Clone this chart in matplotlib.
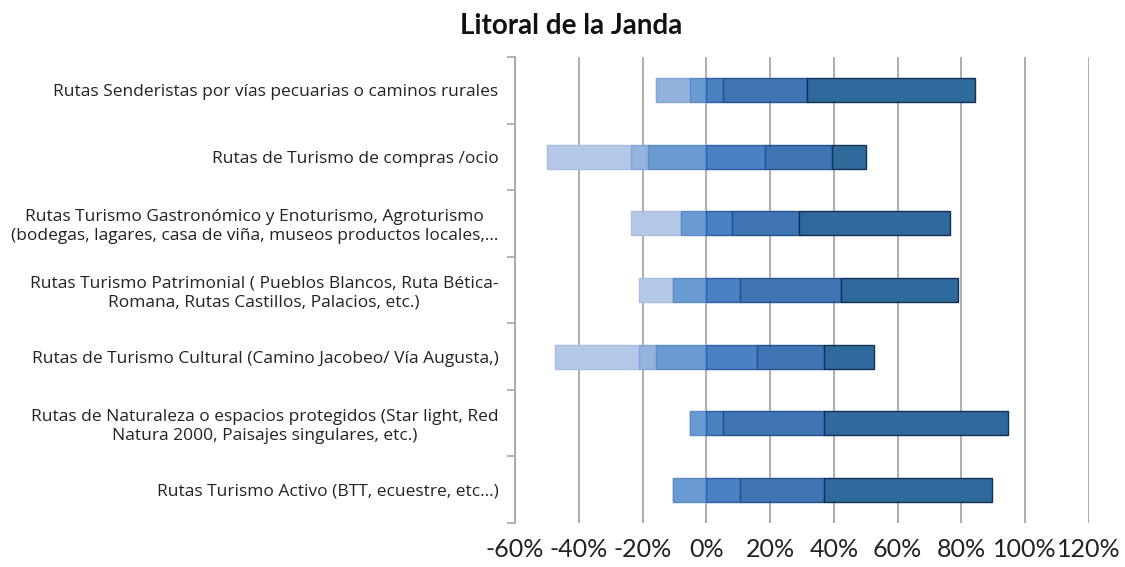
import numpy as np
import matplotlib.pyplot as plt

# categories, top to bottom as in the chart
rutas = [
    'Rutas Senderistas por vías pecuarias o caminos rurales',
    'Rutas de Turismo de compras /ocio',
    'Rutas Turismo Gastronómico y Enoturismo, Agroturismo\n(bodegas, lagares, casa de viña, museos productos locales,…',
    'Rutas Turismo Patrimonial ( Pueblos Blancos, Ruta Bética-\nRomana, Rutas Castillos, Palacios, etc.)',
    'Rutas de Turismo Cultural (Camino Jacobeo/ Vía Augusta,)',
    'Rutas de Naturaleza o espacios protegidos (Star light, Red\nNatura 2000, Paisajes singulares, etc.)',
    'Rutas Turismo Activo (BTT, ecuestre, etc...)',
]

# share of answers (%) on a 5 point scale, neutral split around 0
nada = [0.0, 26.3, 15.8, 10.5, 26.3, 0.0, 0.0]
poco = [10.5, 5.3, 0.0, 0.0, 5.3, 0.0, 0.0]
neutral = [10.5, 36.8, 15.8, 21.1, 31.6, 10.5, 21.1]
bastante = [26.3, 21.1, 21.1, 31.6, 21.1, 31.6, 26.3]
mucho = [52.6, 10.5, 47.4, 36.8, 15.8, 57.9, 52.6]

xticks = [-60, -40, -20, 0, 20, 40, 60, 80, 100, 120]

colores = ['#B4C7E7', '#93B2DE', '#6A9AD2', '#4A80C4', '#3F74B5', '#2F6A9C']
bordes = ['#A9BEDF', '#86A6D6', '#5C8CC6', '#2F5F9E', '#24528A', '#132F55']

plt.rcParams['font.family'] = ['Lato', 'DejaVu Sans']

fig = plt.figure(figsize=(11.25, 5.67), dpi=100)
ax = fig.add_axes([0.4578, 0.0776, 0.968 - 0.4578, 0.8995 - 0.0776])

y = np.arange(len(rutas))
nada = np.array(nada)
poco = np.array(poco)
neutral = np.array(neutral)
bastante = np.array(bastante)
mucho = np.array(mucho)

h = 0.36
mitad = neutral / 2
# left side: from 0 going negative
izq = [(nada, -(mitad + poco + nada)), (poco, -(mitad + poco)), (mitad, -mitad)]
der = [(mitad, np.zeros(len(y))), (bastante, mitad), (mucho, mitad + bastante)]
for i, (w, start) in enumerate(izq + der):
    ax.barh(y, w, left=start, height=h, color=colores[i], edgecolor=bordes[i],
            linewidth=1.0, zorder=3)

ax.set_xlim(-60, 120)
ax.set_ylim(len(rutas) - 0.5, -0.5)
ax.set_xticks(xticks)
ax.set_xticklabels([f'{v}%' for v in xticks], fontsize=18, color='#222222')
ax.tick_params(axis='x', length=0, pad=11)
ax.grid(axis='x', color='#A6A6A6', linewidth=1.3, zorder=0)

ax.set_yticks(y)
ax.set_yticklabels(rutas, fontsize=12.5, color='#222222', multialignment='center',
                   linespacing=1.25, family=['Open Sans', 'DejaVu Sans'])
ax.tick_params(axis='y', which='major', length=0, pad=12)
ax.set_yticks(np.arange(len(rutas) + 1) - 0.5, minor=True)
ax.tick_params(axis='y', which='minor', length=6, color='#A6A6A6', width=1.2)

for s in ['top', 'right', 'bottom']:
    ax.spines[s].set_visible(False)
ax.spines['left'].set_color('#A6A6A6')
ax.spines['left'].set_linewidth(1.3)

fig.text(0.508, 1 - 26 / 567, 'Litoral de la Janda', ha='center', va='center',
         fontsize=20, fontweight='bold', color='#111111')

fig.savefig('out.png', dpi=100)
